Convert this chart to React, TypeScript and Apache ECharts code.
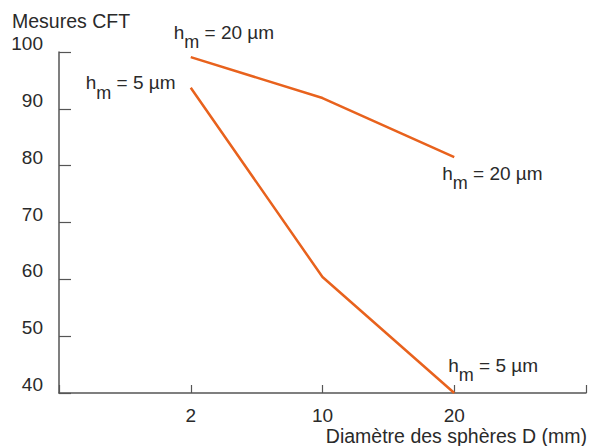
import React, { useEffect, useRef } from "react";
import * as echarts from "echarts";

const categories = ["2", "10", "20"];
const h20Values = [99.1, 91.9, 81.5];
const h5Values = [93.7, 60.4, 40];
const yTicks = [40, 50, 60, 70, 80, 90, 100];
const hmLabels = ["20", "5"];
const yTitle = "Mesures CFT";
const xTitle = "Diamètre des sphères D (mm)";

const FONT = "'Liberation Sans', Arial, Helvetica, sans-serif";
const TEXT = "#2a2a2a";
const AXIS = "#555555";
const LINE = "#E8621D";

function labelText(v: string) {
  return `{t|h}{s|m}{t| = ${v} µm}`;
}

const rich = {
  t: { fontSize: 19, lineHeight: 20, color: TEXT, fontFamily: FONT },
  s: { fontSize: 18, lineHeight: 20, color: TEXT, fontFamily: FONT, padding: [20, 0, 0, 0] },
};

function pointLabel(v: string, offset: number[]) {
  return {
    show: true,
    position: "top",
    distance: 0,
    align: "left",
    verticalAlign: "top",
    offset,
    formatter: labelText(v),
    rich,
  };
}

function buildData(values: number[], v: string, firstOffset: number[], lastOffset: number[]) {
  return values.map((y, i) => {
    const item: any = { value: [i + 1, y] };
    if (i === 0) item.label = pointLabel(v, firstOffset);
    if (i === values.length - 1) item.label = pointLabel(v, lastOffset);
    return item;
  });
}

export default function App() {
  const ref = useRef<HTMLDivElement>(null);
  useEffect(() => {
    if (!ref.current) return;
    const chart = echarts.init(ref.current, null, { renderer: "svg" });
    chart.setOption({
      animation: false,
      backgroundColor: "#ffffff",
      textStyle: { fontFamily: FONT },
      title: [
        {
          text: yTitle,
          left: 12,
          top: 11,
          padding: 0,
          textStyle: { fontSize: 19.5, lineHeight: 20, fontWeight: "normal", color: TEXT, fontFamily: FONT },
        },
        {
          text: xTitle,
          right: 3,
          top: 426,
          padding: 0,
          textStyle: { fontSize: 19.5, lineHeight: 19, fontWeight: "normal", color: TEXT, fontFamily: FONT },
        },
      ],
      grid: { left: 59, right: 4, top: 52, bottom: 53, containLabel: false, outerBoundsMode: "none" },
      xAxis: {
        type: "value",
        min: 0,
        max: 4,
        interval: 1,
        axisLine: { lineStyle: { color: AXIS, width: 1.5 } },
        axisTick: { inside: true, length: 8, lineStyle: { color: AXIS, width: 1.2 } },
        splitLine: { show: false },
        axisLabel: {
          fontSize: 19,
          lineHeight: 19,
          color: TEXT,
          margin: 13,
          fontFamily: FONT,
          formatter: (val: number) => categories[val - 1] ?? "",
        },
      },
      yAxis: {
        type: "value",
        min: yTicks[0],
        max: yTicks[yTicks.length - 1],
        interval: 10,
        axisLine: { show: true, lineStyle: { color: AXIS, width: 1.5 } },
        axisTick: { show: true, inside: true, length: 12, lineStyle: { color: AXIS, width: 1.2 } },
        splitLine: { show: false },
        axisLabel: {
          fontSize: 19,
          color: TEXT,
          margin: 16,
          verticalAlign: "bottom",
          lineHeight: 17,
          fontFamily: FONT,
        },
      },
      series: [
        {
          type: "line",
          name: "h20",
          data: buildData(h20Values, hmLabels[0], [-17, -35], [-12, 6]),
          symbol: "circle",
          symbolSize: 0,
          lineStyle: { color: LINE, width: 2.5 },
          itemStyle: { color: LINE },
        },
        {
          type: "line",
          name: "h5",
          data: buildData(h5Values, hmLabels[1], [-105, -15], [-6, -38]),
          symbol: "circle",
          symbolSize: 0,
          lineStyle: { color: LINE, width: 2.5 },
          itemStyle: { color: LINE },
        },
      ],
    });
    return () => chart.dispose();
  }, []);
  return <div ref={ref} style={{ width: 590, height: 446, position: "absolute", left: 0, top: 0 }} />;
}
